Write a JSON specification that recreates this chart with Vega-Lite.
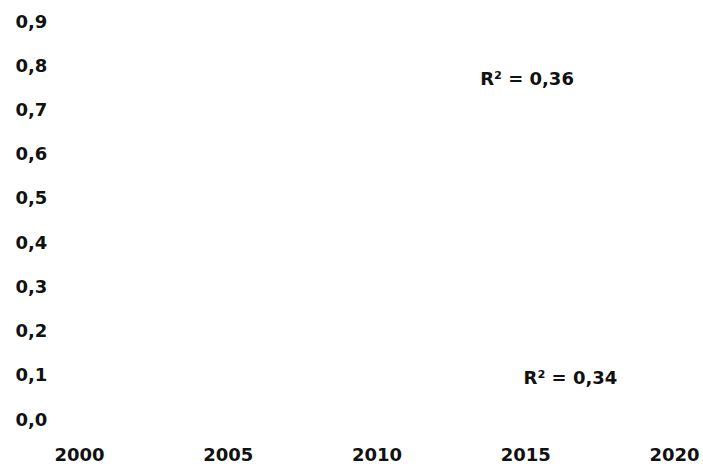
{
  "$schema": "https://vega.github.io/schema/vega-lite/v6.json",
  "width": 595,
  "height": 398,
  "autosize": {"type": "none"},
  "padding": {"left": 79, "top": 22, "right": 29, "bottom": 47},
  "background": "white",
  "config": {
    "view": {"stroke": null},
    "font": "DejaVu Sans",
    "axis": {"labelFont": "DejaVu Sans", "labelFontWeight": "bold", "labelFontSize": 18, "labelColor": "#111"}
  },
  "data": {
    "values": [
      {"year": 2015.06, "value": 0.768, "label": "R² = 0,36"},
      {"year": 2016.52, "value": 0.093, "label": "R² = 0,34"}
    ]
  },
  "mark": {"type": "text", "font": "DejaVu Sans", "fontWeight": "bold", "fontSize": 18, "color": "#111", "align": "center", "baseline": "middle"},
  "encoding": {
    "x": {
      "field": "year",
      "type": "quantitative",
      "scale": {"domain": [2000, 2020], "nice": false, "zero": false},
      "axis": {
        "title": null,
        "values": [2000, 2005, 2010, 2015, 2020],
        "format": "d",
        "grid": false,
        "domain": false,
        "ticks": false,
        "labelPadding": 26,
        "labelBaseline": "top",
        "labelFlush": false,
        "labelOverlap": false
      }
    },
    "y": {
      "field": "value",
      "type": "quantitative",
      "scale": {"domain": [0, 0.9], "nice": false},
      "axis": {
        "title": null,
        "values": [0, 0.1, 0.2, 0.3, 0.4, 0.5, 0.6, 0.7, 0.8, 0.9],
        "labelExpr": "replace(format(datum.value, '.1f'), '.', ',')",
        "grid": false,
        "domain": false,
        "ticks": false,
        "labelAlign": "left",
        "labelPadding": 64,
        "labelBaseline": "middle",
        "labelFlush": false,
        "labelOverlap": false
      }
    },
    "text": {"field": "label", "type": "nominal"}
  }
}
